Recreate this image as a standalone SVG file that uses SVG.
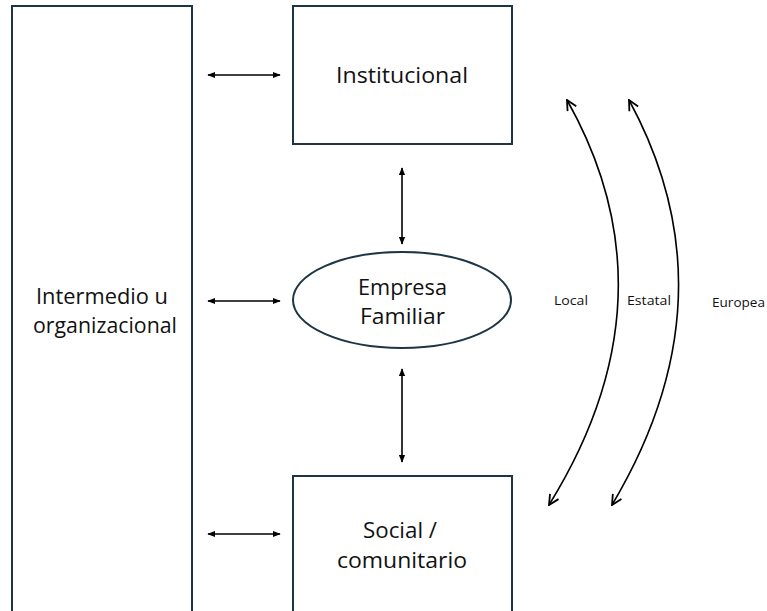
<svg xmlns="http://www.w3.org/2000/svg" width="767" height="611" viewBox="0 0 767 611">
<style>
.box{fill:#fff;stroke:#1e3545;stroke-width:2}
.lbl{font-family:"Open Sans","Liberation Sans",sans-serif;font-size:22px;fill:#111}
.sm{font-family:"Open Sans","Liberation Sans",sans-serif;font-size:12px;fill:#111}
.ar{stroke:#000;stroke-width:1.6;fill:none}
.cv{stroke:#000;stroke-width:1.6;fill:none}
</style>
<defs>
<marker id="tri" viewBox="0 0 10 10" refX="9" refY="5" markerWidth="8" markerHeight="8" orient="auto-start-reverse" markerUnits="userSpaceOnUse">
<path d="M0,1 L10,5 L0,9 Z" fill="#000"/>
</marker>
<marker id="chev" viewBox="0 0 12 12" refX="11" refY="6" markerWidth="12" markerHeight="12" orient="auto" markerUnits="userSpaceOnUse">
<path d="M1,1 L11,6 L1,11" fill="none" stroke="#000" stroke-width="1.8"/>
</marker>
</defs>
<g id="intermedio">
<rect class="box" x="12" y="6" width="180" height="620"/>
<text class="lbl" x="36" y="304" textLength="132" lengthAdjust="spacingAndGlyphs">Intermedio u</text>
<text class="lbl" x="33" y="333" textLength="144" lengthAdjust="spacingAndGlyphs">organizacional</text>
</g>
<g id="institucional">
<rect class="box" x="293" y="6" width="219" height="138"/>
<text class="lbl" x="336" y="83" textLength="132" lengthAdjust="spacingAndGlyphs">Institucional</text>
</g>
<g id="empresa">
<ellipse class="box" cx="402" cy="300" rx="109" ry="48"/>
<text class="lbl" x="358" y="295" textLength="89" lengthAdjust="spacingAndGlyphs">Empresa</text>
<text class="lbl" x="360" y="324" textLength="85" lengthAdjust="spacingAndGlyphs">Familiar</text>
</g>
<g id="social">
<rect class="box" x="293" y="476" width="219" height="150"/>
<text class="lbl" x="363" y="538" textLength="74" lengthAdjust="spacingAndGlyphs">Social /</text>
<text class="lbl" x="337" y="568" textLength="130" lengthAdjust="spacingAndGlyphs">comunitario</text>
</g>
<g id="connectors">
<line class="ar" x1="208" y1="75" x2="280" y2="75" marker-start="url(#tri)" marker-end="url(#tri)"/>
<line class="ar" x1="208" y1="301" x2="280" y2="301" marker-start="url(#tri)" marker-end="url(#tri)"/>
<line class="ar" x1="208" y1="534" x2="280" y2="534" marker-start="url(#tri)" marker-end="url(#tri)"/>
<line class="ar" x1="402" y1="168" x2="402" y2="244" marker-start="url(#tri)" marker-end="url(#tri)"/>
<line class="ar" x1="402" y1="369" x2="402" y2="462" marker-start="url(#tri)" marker-end="url(#tri)"/>
<path class="cv" d="M 549 505 Q 678 297 567 100" marker-end="url(#chev)"/>
<path class="cv" d="M 567 100 Q 678 297 549 505" marker-end="url(#chev)" stroke-opacity="0"/>
<path class="cv" d="M 612 505 Q 736 297 629 100" marker-end="url(#chev)"/>
<path class="cv" d="M 629 100 Q 736 297 612 505" marker-end="url(#chev)" stroke-opacity="0"/>
</g>
<g id="labels">
<text class="sm" x="554" y="305" textLength="34" lengthAdjust="spacingAndGlyphs">Local</text>
<text class="sm" x="627" y="305" textLength="44" lengthAdjust="spacingAndGlyphs">Estatal</text>
<text class="sm" x="712" y="307" textLength="53" lengthAdjust="spacingAndGlyphs">Europea</text>
</g>
</svg>
